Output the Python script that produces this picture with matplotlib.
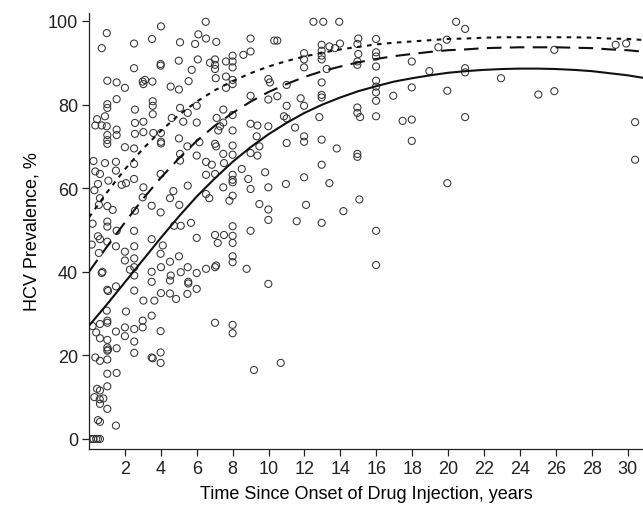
import matplotlib
matplotlib.use("Agg")
import matplotlib.pyplot as plt

plt.rcParams['font.family'] = ['Liberation Sans', 'DejaVu Sans']

# Scatter observations (years since onset, HCV prevalence %)
obs_x = [
    4.01, 6.50, 0.99, 2.51, 3.51, 6.09, 6.52, 7.09, 5.07, 5.91, 0.71, 3.99, 3.99, 5.00, 6.06, 2.51, 5.72, 6.74,
    7.02, 7.02, 7.02, 7.63, 8.00, 8.00, 8.00, 1.02, 1.54, 2.00, 2.99, 3.12, 3.03, 3.53, 4.55, 5.01, 5.55, 7.06,
    7.63, 8.00, 8.00, 7.63, 1.54, 1.02, 1.02, 2.56, 3.55, 3.55, 3.55, 5.07, 5.50, 6.00, 4.61, 5.25, 6.00, 7.11,
    7.48, 8.00, 7.48, 8.00, 7.20, 7.30, 0.89, 0.71, 0.99, 1.54, 1.54, 1.02, 1.02, 1.02, 2.56, 3.03, 2.56, 3.03,
    3.58, 4.01, 4.01, 4.01, 5.01, 6.15, 5.48, 7.02, 7.08, 2.00, 2.51, 8.00, 7.48, 8.00, 5.07, 6.00,
    12.50, 13.05, 13.94, 9.00, 10.32, 10.49, 8.60, 9.00, 11.98, 11.98, 11.98, 12.96, 12.96, 12.96, 12.96, 13.39,
    13.70, 13.98, 15.00, 14.95, 15.00, 14.95, 14.95, 15.99, 15.99, 15.99, 15.99, 13.24, 9.99, 10.08, 11.01, 12.96,
    9.00, 9.99, 10.49, 11.79, 11.98, 11.01, 12.96, 12.96, 15.99, 15.99, 15.99, 15.99, 14.95, 14.95, 15.10, 15.99,
    10.86, 11.01, 12.83, 9.00, 9.38, 9.99, 11.48, 9.34, 11.98, 11.98, 12.96, 11.01, 9.49, 13.80, 9.00, 9.38,
    14.95, 14.95,
    20.45, 20.95, 19.93, 19.46, 17.98, 18.96, 20.95, 20.95, 22.95, 16.95, 17.98, 19.96, 17.47, 17.98, 20.95, 17.98,
    25.92, 29.34, 29.92, 25.03, 25.92, 30.42, 30.42,
    0.89, 1.50, 1.50, 2.51, 0.61, 1.08, 1.82, 2.06, 2.51, 3.03, 3.99, 2.99, 0.61, 1.02, 1.32, 2.56, 3.49, 3.99,
    4.70, 4.51, 5.03, 5.50, 1.02, 1.02, 1.54, 2.51, 4.74, 5.11, 5.68, 3.49, 4.11, 6.00, 0.61, 1.02, 1.50, 2.00,
    2.52, 2.00, 2.52, 3.99, 5.01, 4.51, 4.01, 3.49, 2.28, 2.52, 2.52, 4.55, 4.51, 3.49, 5.11, 5.50, 6.00, 5.53,
    5.53, 6.00, 5.48, 4.85, 4.51, 4.01, 3.03, 2.52, 3.64, 1.50, 1.02, 1.06, 0.71, 6.52, 7.02, 7.08, 7.02, 7.52,
    7.17, 8.00, 8.00, 8.00, 8.00, 8.00, 6.52, 6.70, 6.52, 7.02, 6.52, 6.84, 7.52, 8.00, 8.00, 8.00, 7.48, 7.82,
    8.00, 5.07,
    8.51, 9.81, 12.96, 8.87, 9.00, 9.99, 10.97, 11.98, 13.39, 15.06, 9.49, 9.99, 9.99, 12.09, 11.57, 12.96, 14.17,
    9.00, 15.99, 8.78, 15.99, 9.99, 19.96,
    2.06, 0.99, 0.61, 1.02, 1.02, 3.49, 2.99, 2.99, 2.52, 2.00, 2.00, 1.50, 3.99, 0.61, 1.02, 1.02, 1.02, 1.06,
    1.54, 2.52, 2.52, 0.61, 1.02, 3.49, 3.55, 3.99, 3.99, 1.02, 1.54, 1.02, 0.61, 0.80, 0.61, 1.02, 0.61, 1.50,
    0.61, 7.02, 8.00, 8.00, 9.19, 10.68,
    0.45, 0.35, 0.25, 0.35, 0.50, 0.30, 0.55, 0.20, 0.50, 0.15, 0.55, 0.75, 0.20, 0.40, 0.35, 0.45, 0.30, 0.60,
    0.50, 0.10, 0.25, 0.40, 0.50,
]
obs_y = [
    98.7, 99.8, 97.1, 94.6, 95.7, 96.8, 95.8, 95.0, 94.9, 94.5, 93.5, 89.7, 89.3, 90.5, 90.8, 88.7, 88.3, 90.0,
    90.8, 89.5, 88.5, 90.3, 91.7, 90.3, 88.9, 85.7, 85.3, 84.0, 85.5, 85.9, 84.9, 85.5, 84.3, 83.6, 85.6, 86.3,
    86.7, 85.9, 84.9, 84.0, 81.3, 80.1, 79.2, 78.8, 80.8, 79.7, 77.7, 79.2, 78.0, 79.7, 76.8, 75.9, 75.7, 76.8,
    78.8, 77.5, 75.7, 73.8, 73.8, 74.8, 77.2, 75.0, 74.8, 74.0, 72.7, 72.7, 71.5, 70.6, 75.6, 75.9, 73.0, 73.4,
    73.2, 73.2, 71.1, 70.7, 71.9, 71.0, 70.0, 70.6, 70.0, 69.8, 69.5, 70.2, 68.2, 68.0, 68.2, 67.8,
    99.8, 99.8, 99.8, 95.8, 95.3, 95.3, 91.9, 92.7, 92.3, 90.8, 88.9, 94.3, 92.9, 91.7, 90.8, 93.9,
    93.5, 94.6, 95.8, 94.5, 92.1, 90.3, 89.5, 95.7, 92.5, 91.5, 89.1, 88.5, 86.1, 85.3, 84.7, 85.3,
    82.1, 81.2, 82.0, 81.5, 79.7, 79.7, 82.3, 81.7, 85.7, 84.3, 82.9, 80.9, 79.3, 78.0, 77.0, 77.2,
    77.2, 76.7, 77.0, 75.4, 75.0, 74.8, 74.5, 72.4, 72.4, 71.1, 71.6, 70.8, 70.0, 69.5, 68.4, 67.8,
    68.2, 67.5,
    99.8, 98.1, 95.5, 93.7, 90.3, 88.0, 88.7, 87.7, 86.3, 82.1, 84.1, 83.3, 76.1, 76.4, 77.0, 71.3,
    93.1, 94.3, 94.6, 82.4, 83.2, 75.8, 66.8,
    66.0, 66.3, 64.2, 65.8, 63.4, 61.8, 60.8, 61.2, 62.2, 60.2, 63.4, 57.8, 57.6, 55.7, 54.8, 54.6, 55.8, 54.2,
    59.3, 57.6, 56.0, 60.6, 52.0, 50.8, 49.8, 49.8, 51.0, 51.0, 51.7, 47.8, 46.3, 48.1, 47.8, 47.2, 46.1, 44.8,
    46.1, 42.7, 43.2, 44.3, 43.7, 42.4, 41.1, 40.0, 40.5, 41.1, 39.1, 39.1, 37.9, 37.6, 39.9, 41.1, 39.7, 37.6,
    37.2, 35.9, 34.7, 33.5, 34.8, 34.9, 33.1, 35.5, 33.1, 36.5, 35.7, 35.4, 39.7, 40.7, 41.1, 41.5, 48.8, 48.8,
    46.9, 48.6, 46.9, 43.7, 42.3, 50.9, 58.6, 57.6, 63.2, 63.4, 66.3, 65.6, 66.0, 63.2, 62.0, 61.4, 60.2, 57.0,
    58.2, 66.6,
    64.6, 63.8, 65.6, 62.2, 59.8, 60.2, 61.0, 62.6, 61.2, 57.3, 56.2, 54.9, 52.4, 56.0, 52.1, 51.7, 54.5,
    49.8, 49.8, 40.7, 41.6, 37.1, 61.2,
    30.5, 30.7, 27.5, 28.3, 27.8, 29.5, 28.3, 26.7, 26.3, 26.7, 24.6, 25.7, 25.8, 24.1, 23.7, 21.9, 21.1, 21.4,
    21.7, 23.3, 20.6, 18.7, 19.0, 19.5, 19.3, 20.7, 18.2, 15.6, 15.8, 12.6, 11.6, 9.7, 8.4, 7.2, 4.1, 3.2,
    0.0, 27.8, 27.3, 25.3, 16.5, 18.2,
    76.5, 75.0, 66.5, 64.0, 61.0, 59.5, 56.0, 51.5, 48.5, 46.5, 44.5, 40.0, 27.0, 25.5, 19.5, 12.0, 10.0, 9.5,
    4.5, 0.0, 0.0, 0.0, 0.0,
]

# Fitted curves at yearly steps
curve_x = list(range(0, 32))
fit_solid = [27.1, 32.2, 37.5, 42.8, 48.1, 53.2, 58.0, 62.3, 66.3, 69.8, 72.9, 75.6, 78.0, 80.0, 81.7, 83.2,
             84.4, 85.5, 86.3, 87.0, 87.6, 88.0, 88.3, 88.5, 88.6, 88.6, 88.5, 88.3, 88.0, 87.5, 87.0, 86.3]
fit_dashed = [40.0, 46.0, 51.8, 57.4, 62.5, 67.1, 71.3, 74.9, 78.0, 80.7, 83.0, 84.9, 86.6, 88.0, 89.1, 90.1,
              90.9, 91.6, 92.1, 92.6, 93.0, 93.2, 93.5, 93.6, 93.7, 93.7, 93.7, 93.6, 93.5, 93.2, 93.0, 92.6]
fit_dotted = [53.0, 59.0, 64.5, 69.4, 73.7, 77.5, 80.7, 83.4, 85.6, 87.5, 89.1, 90.4, 91.5, 92.4, 93.2, 93.8,
              94.4, 94.8, 95.1, 95.4, 95.7, 95.8, 96.0, 96.1, 96.1, 96.1, 96.1, 96.1, 96.0, 95.8, 95.7, 95.4]

x_ticks = list(range(2, 31, 2))
y_ticks = [0, 20, 40, 60, 80, 100]

fig = plt.figure(figsize=(6.43, 5.10), dpi=100)
ax = fig.add_axes([89/643, 60/510, (643-89)/643, (450-13.6)/510])

ax.scatter(obs_x, obs_y, s=26, facecolors='none', edgecolors='#333333', linewidths=0.75, zorder=2)
ax.plot(curve_x, fit_solid, color='#111111', lw=1.5, zorder=3)
ax.plot(curve_x, fit_dashed, color='#111111', lw=1.5, dashes=(7, 4), zorder=3)
ax.plot(curve_x, fit_dotted, color='#111111', lw=1.5, dashes=(2.2, 2.6), zorder=3)

ax.set_xlim(0, 30.86)
ax.set_ylim(-2.4, 102)
ax.set_xticks(x_ticks)
ax.set_yticks(y_ticks)
for s in ['top', 'right']:
    ax.spines[s].set_visible(False)
for s in ['left', 'bottom']:
    ax.spines[s].set_linewidth(0.9)
    ax.spines[s].set_color('#222222')
ax.tick_params(direction='out', length=5, width=0.9, labelsize=13, colors='#222222', pad=3)
ax.set_xlabel('Time Since Onset of Drug Injection, years', fontsize=13, labelpad=6)
ax.set_ylabel('HCV Prevalence, %', fontsize=13, labelpad=5)

fig.savefig('out.png', dpi=100)
